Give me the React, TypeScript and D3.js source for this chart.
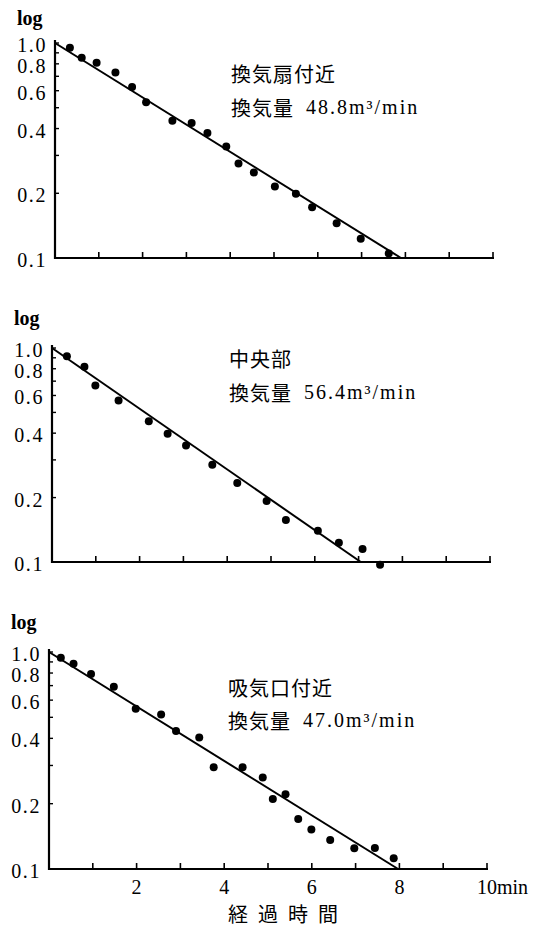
import React from "react";
import * as d3 from "d3";

// ---- Data ----
const timeTicks = [1, 2, 3, 4, 5, 6, 7, 8, 9, 10];
const timeLabels = ["2", "4", "6", "8"];
const yTickValues = [1.0, 0.9, 0.8, 0.7, 0.6, 0.5, 0.4, 0.3, 0.2, 0.1];
const yTickLabels = ["1.0", "0.8", "0.6", "0.4", "0.2", "0.1"];

// 換気扇付近
const p1Time = [0.34, 0.61, 0.95, 1.38, 1.76, 2.08, 2.68, 3.12, 3.48, 3.91, 4.19, 4.54, 5.02, 5.5, 5.87, 6.43, 6.98, 7.62];
const p1Conc = [0.95, 0.854, 0.81, 0.73, 0.625, 0.53, 0.435, 0.424, 0.381, 0.33, 0.275, 0.25, 0.215, 0.199, 0.172, 0.145, 0.123, 0.105];
const p1Fit = [[0, 1.0], [7.9, 0.1]];

// 中央部
const p2Time = [0.34, 0.74, 0.99, 1.52, 2.21, 2.64, 3.06, 3.66, 4.23, 4.9, 5.34, 6.07, 6.55, 7.09, 7.49];
const p2Conc = [0.915, 0.817, 0.668, 0.569, 0.455, 0.398, 0.35, 0.285, 0.234, 0.193, 0.157, 0.14, 0.123, 0.115, 0.097];
const p2Fit = [[0, 1.0], [7.05, 0.1]];

// 吸気口付近
const p3Time = [0.27, 0.56, 0.96, 1.48, 1.98, 2.56, 2.9, 3.43, 3.76, 4.42, 4.88, 5.11, 5.4, 5.69, 5.99, 6.42, 6.97, 7.44, 7.87];
const p3Conc = [0.94, 0.883, 0.792, 0.692, 0.548, 0.515, 0.432, 0.404, 0.294, 0.294, 0.264, 0.21, 0.221, 0.17, 0.152, 0.136, 0.1245, 0.125, 0.112];
const p3Fit = [[0, 1.0], [7.97, 0.1]];

const titles = ["換気扇付近", "中央部", "吸気口付近"];
const rateLabels = ["48.8m³/min", "56.4m³/min", "47.0m³/min"];
const yAxisName = "log";
const xAxisName = "経過時間";
const xUnit = "min";

const SERIF = "'Liberation Serif', 'DejaVu Serif', serif";
const CJK = "'Noto Sans CJK JP', 'Noto Sans CJK SC', sans-serif";

type PanelProps = {
  time: number[];
  conc: number[];
  fit: number[][];
  title: string;
  rate: string;
  x0: number;
  x10: number;
  yTop: number;
  yBot: number;
  logY: number;
  annX: number;
  ann1Y: number;
  ann2Y: number;
  showX: boolean;
};

function Panel(p: PanelProps) {
  const x = d3.scaleLinear().domain([0, 10]).range([p.x0, p.x10]);
  const y = d3.scaleLog().domain([0.1, 1.0]).range([p.yBot, p.yTop]);
  const line = d3
    .line<number[]>()
    .x((d) => x(d[0]))
    .y((d) => y(d[1]));
  const labelFmt = (v: number) => v.toFixed(1);
  return (
    <g>
      <text x={p.x0 - 38} y={p.logY} fontFamily={SERIF} fontSize={20} fontWeight={600} dominantBaseline="central">
        {yAxisName}
      </text>
      {/* axes */}
      <path
        d={`M${p.x0},${p.yTop - 3}V${p.yBot}H${p.x10 + 1}`}
        fill="none"
        stroke="#000"
        strokeWidth={2.2}
      />
      {yTickValues.map((v) => (
        <line key={"yt" + v} x1={p.x0} x2={p.x0 + 4} y1={y(v)} y2={y(v)} stroke="#000" strokeWidth={1.4} />
      ))}
      {yTickLabels.map((s) => (
        <text
          key={"yl" + s}
          x={p.x0 - 8}
          y={y(+s) + 2}
          textAnchor="end"
          dominantBaseline="central"
          fontFamily={SERIF}
          fontSize={20}
          letterSpacing={1.6}
        >
          {labelFmt(+s)}
        </text>
      ))}
      {timeTicks.map((t) => (
        <line key={"xt" + t} x1={x(t)} x2={x(t)} y1={p.yBot + 1} y2={p.yBot - 6} stroke="#000" strokeWidth={1.6} />
      ))}
      {p.showX &&
        timeLabels.map((s) => (
          <text
            key={"xl" + s}
            x={x(+s)}
            y={p.yBot + 18}
            textAnchor="middle"
            dominantBaseline="central"
            fontFamily={SERIF}
            fontSize={20}
          >
            {s}
          </text>
        ))}
      {p.showX && (
        <text x={x(10) - 10} y={p.yBot + 18} dominantBaseline="central" fontFamily={SERIF} fontSize={20}>
          {"10" + xUnit}
        </text>
      )}
      {/* fitted line */}
      <path d={line(p.fit) || ""} fill="none" stroke="#000" strokeWidth={2} />
      {/* points */}
      {p.time.map((t, i) => (
        <circle key={"pt" + i} cx={x(t)} cy={y(p.conc[i])} r={4} fill="#000" />
      ))}
      {/* annotation */}
      <text x={p.annX} y={p.ann1Y} dominantBaseline="central" fontFamily={CJK} fontSize={20} letterSpacing={1}>
        {p.title}
      </text>
      <text x={p.annX} y={p.ann2Y} dominantBaseline="central" fontSize={20} fontFamily={SERIF}>
        <tspan fontFamily={CJK} letterSpacing={1}>換気量</tspan>
        <tspan dx={12} fontFamily={SERIF} letterSpacing={2}>
          {p.rate}
        </tspan>
      </text>
    </g>
  );
}

export default function App() {
  return (
    <svg
      width={539}
      height={929}
      viewBox="0 0 539 929"
      style={{ position: "absolute", left: 0, top: 0, background: "#fff" }}
    >
      <rect width={539} height={929} fill="#fff" />
      <Panel
        time={p1Time}
        conc={p1Conc}
        fit={p1Fit}
        title={titles[0]}
        rate={rateLabels[0]}
        x0={55}
        x10={493}
        yTop={43}
        yBot={258}
        logY={18}
        annX={231}
        ann1Y={73}
        ann2Y={107}
        showX={false}
      />
      <Panel
        time={p2Time}
        conc={p2Conc}
        fit={p2Fit}
        title={titles[1]}
        rate={rateLabels[1]}
        x0={52}
        x10={490}
        yTop={348}
        yBot={562}
        logY={318}
        annX={229}
        ann1Y={358}
        ann2Y={392}
        showX={false}
      />
      <Panel
        time={p3Time}
        conc={p3Conc}
        fit={p3Fit}
        title={titles[2]}
        rate={rateLabels[2]}
        x0={49}
        x10={487}
        yTop={652}
        yBot={869}
        logY={622}
        annX={228}
        ann1Y={687}
        ann2Y={720}
        showX={true}
      />
      <text
        x={288}
        y={913}
        textAnchor="middle"
        dominantBaseline="central"
        fontFamily={CJK}
        fontSize={20}
        letterSpacing={10}
      >
        {xAxisName}
      </text>
    </svg>
  );
}
